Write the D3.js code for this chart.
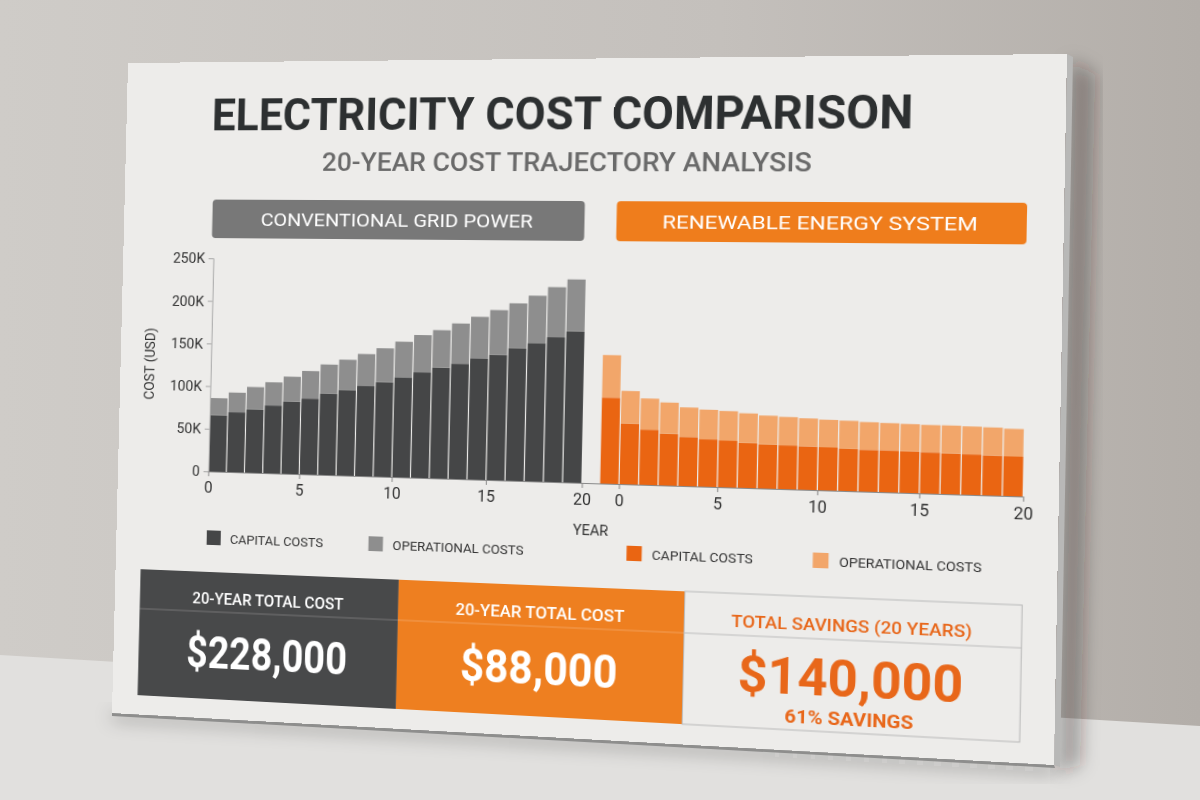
<!DOCTYPE html>
<html>
<head>
<meta charset="utf-8">
<script src="https://cdn.jsdelivr.net/npm/d3@7"></script>
<style>
html, body { margin: 0; padding: 0; width: 1200px; height: 800px; overflow: hidden; background: #c8c5c1; }
#scene { position: absolute; left: 0; top: 0; }
#panel { position: absolute; left: 0; top: 0; transform-origin: 0 0; font-family: Roboto, "Liberation Sans", sans-serif; }
</style>
</head>
<body>
<svg id="scene" width="1200" height="800"></svg>
<svg id="panel" width="940" height="680"></svg>
<script>
// values in thousands of USD
var gridYears = [1, 2, 3, 4, 5, 6, 7, 8, 9, 10, 11, 12, 13, 14, 15, 16, 17, 18, 19, 20];
var gridCapital = [66, 70, 74, 79, 84, 88, 94, 99, 104, 109, 115, 121, 127, 132, 138, 143, 151, 157, 164, 171];
var gridOperational = [20, 23, 26, 27, 29, 32, 34, 35, 37, 39, 41, 43, 43, 46, 48, 51, 51, 54, 57, 59];

var renewYears = [0, 1, 2, 3, 4, 5, 6, 7, 8, 9, 10, 11, 12, 13, 14, 15, 16, 17, 18, 19, 20];
var renewCapital = [97, 68, 62, 58, 55, 53, 52, 50, 49, 48.5, 48, 47.5, 46.5, 46, 46, 45.5, 45, 44.5, 44, 43.5, 43];
var renewOperational = [48, 37, 35, 35, 33, 33, 33, 33, 32, 31.5, 31, 30.5, 31, 30.5, 30, 30, 30, 30.5, 30.5, 30.5, 30];

var yTicks = [0, 50, 100, 150, 200, 250];
var xTicks = [0, 5, 10, 15, 20];
var legendLabels = ["CAPITAL COSTS", "OPERATIONAL COSTS"];
var sectionTitles = ["CONVENTIONAL GRID POWER", "RENEWABLE ENERGY SYSTEM"];
var summaryLabels = ["20-YEAR TOTAL COST", "20-YEAR TOTAL COST", "TOTAL SAVINGS (20 YEARS)"];
var summaryValues = ["$228,000", "$88,000", "$140,000"];
var savingsNote = "61% SAVINGS";

var W = 940, H = 680;
// where the canvas corners sit in the photo
var corners = [[128, 63], [1067, 54], [1054, 765], [112, 713]];

function quadMatrix(w, h, q) {
    var x0 = q[0][0], y0 = q[0][1], x1 = q[1][0], y1 = q[1][1],
        x2 = q[2][0], y2 = q[2][1], x3 = q[3][0], y3 = q[3][1];
    var dx1 = x1 - x2, dx2 = x3 - x2, dx3 = x0 - x1 + x2 - x3;
    var dy1 = y1 - y2, dy2 = y3 - y2, dy3 = y0 - y1 + y2 - y3;
    var den = dx1 * dy2 - dx2 * dy1;
    var g = (dx3 * dy2 - dx2 * dy3) / den;
    var hh = (dx1 * dy3 - dx3 * dy1) / den;
    var a = x1 - x0 + g * x1, b = x3 - x0 + hh * x3;
    var d = y1 - y0 + g * y1, e = y3 - y0 + hh * y3;
    return "matrix3d(" + [a / w, d / w, 0, g / w, b / h, e / h, 0, hh / h, 0, 0, 1, 0, x0, y0, 0, 1].join(",") + ")";
}

// the photo is foreshortened less across than the corners suggest, so push the middle out a bit
function wx(x) {
    var u = x / W;
    return x + 90 * u * (1 - u);
}

// ---- room behind the canvas ----
var scene = d3.select("#scene");
var defs = scene.append("defs");
var wall = defs.append("linearGradient").attr("id", "wall");
wall.append("stop").attr("offset", "0").attr("stop-color", "#cfccc8");
wall.append("stop").attr("offset", "0.6").attr("stop-color", "#c4c0bc");
wall.append("stop").attr("offset", "1").attr("stop-color", "#b3aea9");
defs.append("filter").attr("id", "blur").attr("x", "-20%").attr("y", "-20%").attr("width", "140%").attr("height", "140%")
    .append("feGaussianBlur").attr("stdDeviation", 9);

scene.append("rect").attr("width", 1200).attr("height", 800).attr("fill", "url(#wall)");
scene.append("polygon").attr("points", "0,655 1200,726 1200,800 0,800").attr("fill", "#e1e0de");
scene.append("polygon")
    .attr("points", "1070,60 1095,75 1080,765 1058,772")
    .attr("fill", "rgba(40,35,30,0.35)").attr("filter", "url(#blur)");
scene.append("polygon")
    .attr("points", "112,714 1056,766 1056,772 112,719")
    .attr("fill", "rgba(30,30,30,0.45)").attr("filter", "url(#blur)");
scene.append("polygon").attr("points", "1067,54 1073,57 1060,767 1054,765").attr("fill", "#b8b8b7");
scene.append("polygon").attr("points", "112,713 1054,765 1055,768 112,716").attr("fill", "#8e8e8d");

// ---- the printed canvas ----
var svg = d3.select("#panel").style("transform", quadMatrix(W, H, corners));
svg.append("rect").attr("width", W).attr("height", H).attr("fill", "#edecea");

svg.append("text").attr("x", (wx(85) + wx(786)) / 2).attr("y", 71).attr("text-anchor", "middle")
    .attr("font-size", 46).attr("font-weight", 700).attr("fill", "#2d3031")
    .attr("textLength", wx(786) - wx(85)).attr("lengthAdjust", "spacingAndGlyphs")
    .text("ELECTRICITY COST COMPARISON");
svg.append("text").attr("x", (wx(196) + wx(685)) / 2).attr("y", 113).attr("text-anchor", "middle")
    .attr("font-size", 26).attr("font-weight", 500).attr("fill", "#6a6a6a")
    .attr("textLength", wx(685) - wx(196)).attr("lengthAdjust", "spacingAndGlyphs")
    .text("20-YEAR COST TRAJECTORY ANALYSIS");

var sectionBoxes = [[wx(88), wx(459), "#787878", 282], [wx(491), 906, "#ef7d1c", 302]];
sectionBoxes.forEach(function(b, i) {
    svg.append("rect").attr("x", b[0]).attr("y", 143).attr("width", b[1] - b[0]).attr("height", 40)
        .attr("rx", 4).attr("fill", b[2]);
    svg.append("text").attr("x", (b[0] + b[1]) / 2).attr("y", 170).attr("text-anchor", "middle")
        .attr("font-size", 19).attr("font-weight", 400).attr("fill", "#ffffff")
        .attr("textLength", b[3]).attr("lengthAdjust", "spacingAndGlyphs")
        .text(sectionTitles[i]);
});

var y = d3.scaleLinear().domain([0, 250]).range([425, 204]);
var xLeft = d3.scaleLinear().domain([0, 20]).range([wx(90), wx(462)]);
var xRight = d3.scaleLinear().domain([0, 20]).range([wx(499), wx(904)]);

function drawStack(x, years, capital, operational, colors) {
    var g = svg.append("g");
    var rows = years.map(function(yr, i) {
        return {year: yr, cap: capital[i], op: operational[i]};
    });
    g.selectAll("rect.cap").data(rows).join("rect").attr("class", "cap")
        .attr("x", function(d) { return x(d.year - 1) + 0.6; })
        .attr("width", function(d) { return x(d.year) - x(d.year - 1) - 1.2; })
        .attr("y", function(d) { return y(d.cap); })
        .attr("height", function(d) { return y(0) - y(d.cap); })
        .attr("fill", colors[0]);
    g.selectAll("rect.op").data(rows).join("rect").attr("class", "op")
        .attr("x", function(d) { return x(d.year - 1) + 0.6; })
        .attr("width", function(d) { return x(d.year) - x(d.year - 1) - 1.2; })
        .attr("y", function(d) { return y(d.cap + d.op); })
        .attr("height", function(d) { return y(d.cap) - y(d.cap + d.op); })
        .attr("fill", colors[1]);
}

var gridColors = ["#454647", "#8e8e8e"];
var renewColors = ["#ea6512", "#f2a66a"];
drawStack(xLeft, gridYears, gridCapital, gridOperational, gridColors);
drawStack(xRight, renewYears, renewCapital, renewOperational, renewColors);

// axes
var yAxis = svg.append("g").attr("transform", "translate(" + xLeft(0) + ",0)")
    .call(d3.axisLeft(y).tickValues(yTicks).tickSize(5).tickPadding(4)
        .tickFormat(function(d) { return d === 0 ? "0" : d + "K"; }));
yAxis.select(".domain").attr("stroke", "#a5a5a5");
yAxis.selectAll(".tick line").attr("stroke", "#a5a5a5");
yAxis.selectAll("text").attr("font-size", 15).attr("fill", "#333").attr("font-family", "Roboto, sans-serif");

[xLeft, xRight].forEach(function(x) {
    var ax = svg.append("g").attr("transform", "translate(0," + y(0) + ")")
        .call(d3.axisBottom(x).tickValues(xTicks).tickSize(5).tickPadding(6));
    ax.select(".domain").remove();
    ax.selectAll(".tick line").attr("stroke", "#888");
    ax.selectAll("text").attr("font-size", 16).attr("fill", "#333").attr("font-family", "Roboto, sans-serif");
});
svg.append("line").attr("x1", xLeft(0)).attr("x2", xRight(20)).attr("y1", y(0) + 0.5).attr("y2", y(0) + 0.5)
    .attr("stroke", "#8a8a8a");

svg.append("text").attr("transform", "translate(" + wx(34) + "," + y(125) + ") rotate(-90)")
    .attr("text-anchor", "middle").attr("font-size", 14).attr("fill", "#333").text("COST (USD)");
svg.append("text").attr("x", wx(454)).attr("y", 477).attr("font-size", 14.5).attr("fill", "#333").text("YEAR");

// legends
var legendRows = [
    {x: [wx(90), wx(251)], colors: gridColors},
    {x: [wx(508), wx(694)], colors: renewColors}
];
legendRows.forEach(function(row) {
    row.x.forEach(function(lx, i) {
        svg.append("rect").attr("x", lx).attr("y", 486).attr("width", 15).attr("height", 15).attr("fill", row.colors[i]);
        svg.append("text").attr("x", lx + 25).attr("y", 499).attr("font-size", 13.5).attr("fill", "#333")
            .text(legendLabels[i]);
    });
});

// summary boxes
var boxEdges = [wx(25), wx(282), wx(567), wx(905)];
var boxFills = ["#48494a", "#ee7f20", "#edecea"];
var boxText = ["#ffffff", "#ffffff", "#e8671a"];
var labelWidths = [160, 170, 228];
var valueWidths = [170, 158, 214];
summaryLabels.forEach(function(label, i) {
    var x0 = boxEdges[i], x1 = boxEdges[i + 1], cx = (x0 + x1) / 2;
    svg.append("rect").attr("x", x0).attr("y", 529).attr("width", x1 - x0).attr("height", 131)
        .attr("fill", boxFills[i]).attr("stroke", i === 2 ? "#b9b9b9" : "none");
    svg.append("line").attr("x1", x0).attr("x2", x1).attr("y1", 570).attr("y2", 570)
        .attr("stroke", i === 2 ? "#bdbdbd" : "rgba(255,255,255,0.25)");
    svg.append("text").attr("x", cx).attr("y", 562).attr("text-anchor", "middle")
        .attr("font-size", 16).attr("font-weight", 500).attr("fill", boxText[i])
        .attr("textLength", labelWidths[i]).attr("lengthAdjust", "spacingAndGlyphs").text(label);
    svg.append("text").attr("x", cx).attr("y", i === 2 ? 625 : 628).attr("text-anchor", "middle")
        .attr("font-size", i === 2 ? 50 : 46).attr("font-weight", 700).attr("fill", boxText[i])
        .attr("textLength", valueWidths[i]).attr("lengthAdjust", "spacingAndGlyphs").text(summaryValues[i]);
});
svg.append("text").attr("x", (boxEdges[2] + boxEdges[3]) / 2).attr("y", 653).attr("text-anchor", "middle")
    .attr("font-size", 18).attr("font-weight", 700).attr("fill", "#e8671a")
    .attr("textLength", 122).attr("lengthAdjust", "spacingAndGlyphs").text(savingsNote);
</script>
</body>
</html>
